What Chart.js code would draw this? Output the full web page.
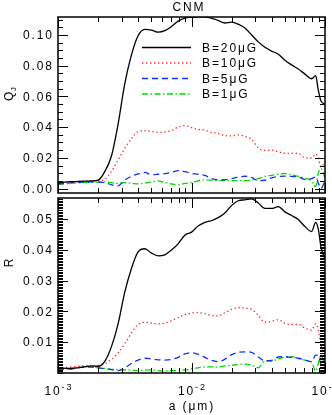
<!DOCTYPE html>
<html><head><meta charset="utf-8">
<script src="https://cdn.jsdelivr.net/npm/chart.js@4.4.1/dist/chart.umd.min.js"></script>
<style>
html,body{margin:0;padding:0;background:#fff;}
#wrap{position:relative;width:332px;height:415px;overflow:hidden;background:#fff;}
canvas{position:absolute;left:0;}
#c1{top:0;}
#c2{top:196px;}
</style></head><body>
<div id="wrap">
<canvas id="c1" width="332" height="196"></canvas>
<canvas id="c2" width="332" height="219"></canvas>
</div>
<script>
// grain size a (μm)
const sizes = [0.001,0.00126,0.00158,0.00178,0.002,0.00224,0.00251,0.00282,0.00316,0.00355,0.00398,0.00447,0.00501,0.00562,0.00631,0.00708,0.00794,0.00891,0.01,0.0112,0.0126,0.0141,0.0158,0.0178,0.02,0.0224,0.0251,0.0282,0.0316,0.0355,0.0398,0.0447,0.0501,0.0562,0.0631,0.0708,0.0794,0.0851,0.0891,0.0933,0.1];

// Q_J panel
const qjB20 = [0.0038,0.0045,0.0048,0.005,0.0055,0.011,0.021,0.042,0.068,0.087,0.0995,0.1037,0.1032,0.1018,0.1028,0.1055,0.109,0.111,0.1115,0.1118,0.1118,0.111,0.1095,0.1078,0.1083,0.107,0.1045,0.100,0.0955,0.092,0.0895,0.0875,0.0835,0.0805,0.0778,0.0745,0.0715,0.0735,0.064,0.057,0.055];
const qjB10 = [0.0042,0.0045,0.0047,0.005,0.005,0.006,0.011,0.0186,0.026,0.0325,0.037,0.0377,0.0372,0.0366,0.0368,0.0378,0.040,0.041,0.0397,0.0385,0.038,0.0365,0.036,0.0345,0.0343,0.035,0.034,0.032,0.0265,0.0248,0.025,0.024,0.0229,0.023,0.0229,0.020,0.0199,0.0225,0.020,0.014,0.018];
const qjB5  = [0.003,0.0038,0.0042,0.0043,0.0042,0.0038,0.0025,0.0018,0.0055,0.008,0.0095,0.0105,0.009,0.0093,0.0097,0.0105,0.0117,0.011,0.0099,0.0093,0.0085,0.0065,0.0057,0.0058,0.0064,0.0075,0.008,0.0072,0.0051,0.0054,0.007,0.0078,0.0081,0.0079,0.0076,0.006,0.0064,0.0075,0.0035,0.0,0.005];
const qjB1  = [0.0025,0.0035,0.0038,0.004,0.0042,0.0044,0.0038,0.0034,0.0038,0.0035,0.003,0.0036,0.0042,0.005,0.004,0.003,0.0024,0.0033,0.0038,0.005,0.0055,0.0055,0.0053,0.0051,0.0051,0.0051,0.0051,0.0055,0.0064,0.008,0.0086,0.0093,0.0098,0.009,0.008,0.0066,0.005,0.0012,0.0099,0.013,0.007];

// R panel
const rB20 = [0.0016,0.0015,0.002,0.0023,0.0022,0.0038,0.0085,0.016,0.0262,0.034,0.0394,0.0404,0.039,0.0381,0.0384,0.040,0.042,0.0448,0.0458,0.0478,0.049,0.0495,0.0505,0.052,0.0545,0.056,0.0563,0.0566,0.0553,0.0535,0.0535,0.0541,0.0524,0.0512,0.0499,0.0476,0.046,0.049,0.0468,0.041,0.037];
const rB10 = [0.0017,0.0019,0.0023,0.0023,0.0025,0.003,0.0044,0.0065,0.0095,0.013,0.0157,0.0165,0.0162,0.016,0.0162,0.017,0.018,0.019,0.0195,0.0196,0.0193,0.0187,0.0186,0.0196,0.0207,0.0213,0.0211,0.0207,0.0188,0.0165,0.0168,0.0173,0.0161,0.0158,0.0158,0.0146,0.0139,0.016,0.014,0.009,0.006];
const rB5  = [0.0012,0.0013,0.0019,0.0019,0.0017,0.0014,0.0011,0.0008,0.0016,0.0031,0.0042,0.0048,0.0046,0.0043,0.0042,0.0044,0.0051,0.0062,0.0066,0.0061,0.0051,0.0041,0.0037,0.0045,0.006,0.0067,0.0069,0.0067,0.0052,0.004,0.0041,0.0052,0.0053,0.005,0.0048,0.0042,0.0037,0.0058,0.0058,0.003,0.003];
const rB1  = [0.001,0.0015,0.0021,0.002,0.0017,0.0015,0.0012,0.0011,0.001,0.0009,0.0008,0.0009,0.001,0.0008,0.0007,0.0008,0.0008,0.001,0.0014,0.0017,0.002,0.002,0.0019,0.0023,0.0025,0.0027,0.0029,0.0025,0.0017,0.0039,0.0039,0.0046,0.0052,0.0053,0.0047,0.0042,0.0035,0.0006,0.0031,0.0058,0.002];

const seriesLabels = ['B=20\u03BCG','B=10\u03BCG','B=5\u03BCG','B=1\u03BCG'];
const qjTicks = [0.00,0.02,0.04,0.06,0.08,0.10];
const rTicks = [0.01,0.02,0.03,0.04,0.05];
const xMajorTicks = [0.001,0.01,0.1];
const xExponents = ['-3','-2','-1'];

const styles = [
  {color:'#000000', dash:[]},
  {color:'#ff2a2a', dash:[1.4,2.6]},
  {color:'#1030ff', dash:[6,4]},
  {color:'#00d800', dash:[6,2.5,1.5,2.5]}
];
const FONT = '"Liberation Sans", Arial, sans-serif';
const SP = 1.9; // letter spacing in px

function makeDatasets(arrs){
  return arrs.map((vals,i)=>({
    label: seriesLabels[i],
    data: vals.map((v,j)=>({x:sizes[j], y:v})),
    borderColor: styles[i].color,
    borderDash: styles[i].dash,
    borderWidth: 1.3,
    pointRadius: 0,
    fill: false,
    cubicInterpolationMode: 'monotone'
  }));
}

// draw text with manual letter spacing
function stext(ctx, s, x, y, size, align, baseline, sp){
  if (sp === undefined) sp = SP;
  ctx.font = size+'px '+FONT;
  ctx.textAlign = 'left';
  ctx.textBaseline = baseline || 'alphabetic';
  const chars = Array.from(s);
  const ws = chars.map(c=>ctx.measureText(c).width);
  const total = ws.reduce((a,b)=>a+b,0) + sp*(chars.length-1);
  let cx = align==='center' ? x-total/2 : align==='right' ? x-total : x;
  chars.forEach((c,i)=>{ ctx.fillText(c, cx, y); cx += ws[i]+sp; });
  return total;
}
function swidth(ctx, s, size, sp){
  if (sp === undefined) sp = SP;
  ctx.font = size+'px '+FONT;
  const chars = Array.from(s);
  return chars.reduce((a,c)=>a+ctx.measureText(c).width,0) + sp*(chars.length-1);
}

function drawFrameTicks(chart, majors, minorStep){
  const {ctx, chartArea:a, scales:{x,y}} = chart;
  ctx.save();
  ctx.strokeStyle = '#000';
  ctx.lineWidth = 1;
  ctx.setLineDash([]);
  ctx.beginPath();
  const xMin=[];
  [0.001,0.01].forEach(d=>{ for(let m=2;m<=9;m++) xMin.push(m*d); });
  xMajorTicks.forEach(v=>{ const p=Math.round(x.getPixelForValue(v))+0.5;
    ctx.moveTo(p,a.bottom); ctx.lineTo(p,a.bottom-10);
    ctx.moveTo(p,a.top); ctx.lineTo(p,a.top+10); });
  xMin.forEach(v=>{ const p=Math.round(x.getPixelForValue(v))+0.5;
    ctx.moveTo(p,a.bottom); ctx.lineTo(p,a.bottom-5);
    ctx.moveTo(p,a.top); ctx.lineTo(p,a.top+5); });
  majors.forEach(v=>{ const p=Math.round(y.getPixelForValue(v))+0.5;
    ctx.moveTo(a.left,p); ctx.lineTo(a.left+10,p);
    ctx.moveTo(a.right,p); ctx.lineTo(a.right-10,p); });
  const k0=Math.ceil(y.min/minorStep-1e-9), k1=Math.floor(y.max/minorStep+1e-9);
  for(let k=k0;k<=k1;k++){ const p=Math.round(y.getPixelForValue(k*minorStep))+0.5;
    ctx.moveTo(a.left,p); ctx.lineTo(a.left+5,p);
    ctx.moveTo(a.right,p); ctx.lineTo(a.right-5,p); }
  ctx.stroke();
  ctx.lineWidth = 1.5;
  ctx.strokeRect(a.left, a.top, a.right-a.left, a.bottom-a.top);
  // y tick labels from the scale's ticks
  ctx.fillStyle = '#000';
  y.ticks.forEach(t=>{
    const p = y.getPixelForValue(t.value);
    stext(ctx, Number(t.value).toFixed(2), a.left-6, p+4.2, 12, 'right');
  });
  ctx.restore();
}

const topDecor = {
  id:'topDecor',
  afterDatasetsDraw(chart){
    drawFrameTicks(chart, qjTicks, 0.005);
    const ctx = chart.ctx;
    ctx.save();
    ctx.fillStyle='#000';
    stext(ctx,'CNM',188,11,12,'center');
    chart.data.datasets.forEach((ds,i)=>{
      const yy = 47.5 + 15.5*i;
      ctx.beginPath();
      ctx.strokeStyle = ds.borderColor; ctx.lineWidth=1.3;
      ctx.setLineDash(ds.borderDash);
      ctx.moveTo(142,yy); ctx.lineTo(191,yy); ctx.stroke();
      ctx.setLineDash([]);
      stext(ctx, ds.label, 202, yy+4.3, 12, 'left');
    });
    ctx.translate(13,101);
    ctx.rotate(-Math.PI/2);
    const w = stext(ctx,'Q',0,0,12,'left');
    stext(ctx,'J',w+0.5,2.5,8,'left');
    ctx.restore();
  }
};

const botDecor = {
  id:'botDecor',
  afterDatasetsDraw(chart){
    drawFrameTicks(chart, rTicks, 0.0005);
    const ctx = chart.ctx, x = chart.scales.x;
    ctx.save();
    ctx.fillStyle='#000';
    xMajorTicks.forEach((v,i)=>{
      const p = x.getPixelForValue(v);
      const w1 = swidth(ctx,'10',12), w2 = swidth(ctx,xExponents[i],9);
      const s = p-(w1+SP+w2)/2;
      stext(ctx,'10',s,199,12,'left');
      stext(ctx,xExponents[i],s+w1+SP,193.5,9,'left');
    });
    stext(ctx,'a (\u03BCm)',191,213.5,12,'center');
    ctx.translate(13,67);
    ctx.rotate(-Math.PI/2);
    stext(ctx,'R',0,0,12,'center');
    ctx.restore();
  }
};

function baseOptions(yMin,yMax,ticks,pad){
  return {
    responsive:false, animation:false, devicePixelRatio:1,
    layout:{padding:pad, autoPadding:false},
    plugins:{legend:{display:false}, tooltip:{enabled:false}, title:{display:false}},
    scales:{
      x:{type:'logarithmic', min:0.001, max:0.1, display:false},
      y:{type:'linear', min:yMin, max:yMax,
        afterBuildTicks:s=>{ s.ticks = ticks.map(v=>({value:v})); },
        afterFit:s=>{ s.width = 58; },
        grid:{display:false}, border:{display:false},
        ticks:{display:false}
      }
    }
  };
}

new Chart(document.getElementById('c1'), {
  type:'line',
  data:{datasets: makeDatasets([qjB20,qjB10,qjB5,qjB1])},
  options: baseOptions(-0.0029, 0.1117, qjTicks, {left:0, top:17, right:7, bottom:3}),
  plugins:[topDecor]
});
new Chart(document.getElementById('c2'), {
  type:'line',
  data:{datasets: makeDatasets([rB20,rB10,rB5,rB1])},
  options: baseOptions(0, 0.0569, rTicks, {left:0, top:2, right:7, bottom:42}),
  plugins:[botDecor]
});
</script>
</body></html>
